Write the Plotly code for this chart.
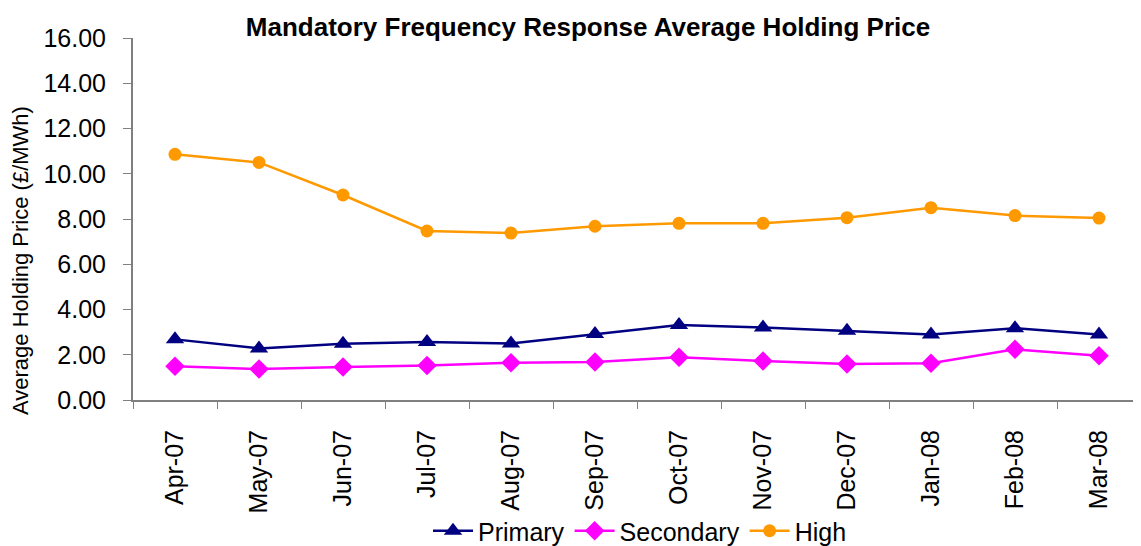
import plotly.graph_objects as go

months = ["Apr-07", "May-07", "Jun-07", "Jul-07", "Aug-07", "Sep-07",
          "Oct-07", "Nov-07", "Dec-07", "Jan-08", "Feb-08", "Mar-08"]
primary = [2.68, 2.28, 2.49, 2.56, 2.50, 2.92, 3.31, 3.20, 3.06, 2.90, 3.17, 2.90]
secondary = [1.49, 1.37, 1.46, 1.53, 1.65, 1.68, 1.89, 1.72, 1.59, 1.62, 2.24, 1.96]
high = [10.86, 10.50, 9.06, 7.47, 7.38, 7.68, 7.81, 7.81, 8.06, 8.50, 8.15, 8.04]
y_ticks = [0, 2, 4, 6, 8, 10, 12, 14, 16]

font = "Liberation Sans, Arial, sans-serif"
W, H = 1133, 538  # page body has an 8px margin

fig = go.Figure()
fig.add_trace(go.Scatter(x=months, y=primary, name="Primary", mode="lines+markers",
                         line=dict(color="#000080", width=2.5),
                         marker=dict(symbol="triangle-up", size=16, color="#000080")))
fig.add_trace(go.Scatter(x=months, y=secondary, name="Secondary", mode="lines+markers",
                         line=dict(color="#FF00FF", width=2.5),
                         marker=dict(symbol="diamond", size=15, color="#FF00FF")))
fig.add_trace(go.Scatter(x=months, y=high, name="High", mode="lines+markers",
                         line=dict(color="#FF9900", width=2.5),
                         marker=dict(symbol="circle", size=13, color="#FF9900")))

fig.update_layout(
    width=W, height=H,
    margin=dict(l=125, r=0, t=30, b=146, pad=0),
    paper_bgcolor="white", plot_bgcolor="white",
    font=dict(family=font, size=25, color="black"),
    title=dict(text="<b>Mandatory Frequency Response Average Holding Price</b>",
               x=580/W, xanchor="center", y=1-19/H, yanchor="middle",
               font=dict(size=26, family=font)),
    showlegend=True,
    legend=dict(orientation="h", xref="container", yref="container",
                x=632/W, xanchor="center", y=1-523/H, yanchor="middle",
                font=dict(size=25), bgcolor="rgba(0,0,0,0)", itemwidth=40),
    annotations=[dict(text="Average Holding Price (£/MWh)", textangle=-90,
                      xref="paper", yref="paper", x=(12-125)/1008, y=1-(253-30)/362,
                      xanchor="center", yanchor="middle", showarrow=False,
                      font=dict(size=22, family=font))],
)
fig.update_xaxes(type="category", range=[-0.5, 11.5], tickangle=-90,
                 showline=True, linecolor="#808080", linewidth=2,
                 ticks="outside", tickson="boundaries", ticklen=7, tickcolor="#808080",
                 showgrid=False, tickfont=dict(size=25), zeroline=False,
                 automargin=False, ticklabelstandoff=18)
fig.update_yaxes(range=[0, 16], tickvals=y_ticks, tickformat=".2f",
                 showline=True, linecolor="#808080", linewidth=2,
                 ticks="outside", ticklen=8, tickcolor="#808080",
                 showgrid=False, zeroline=False, tickfont=dict(size=25),
                 automargin=False, ticklabelstandoff=12)

fig.write_html("out.html")
